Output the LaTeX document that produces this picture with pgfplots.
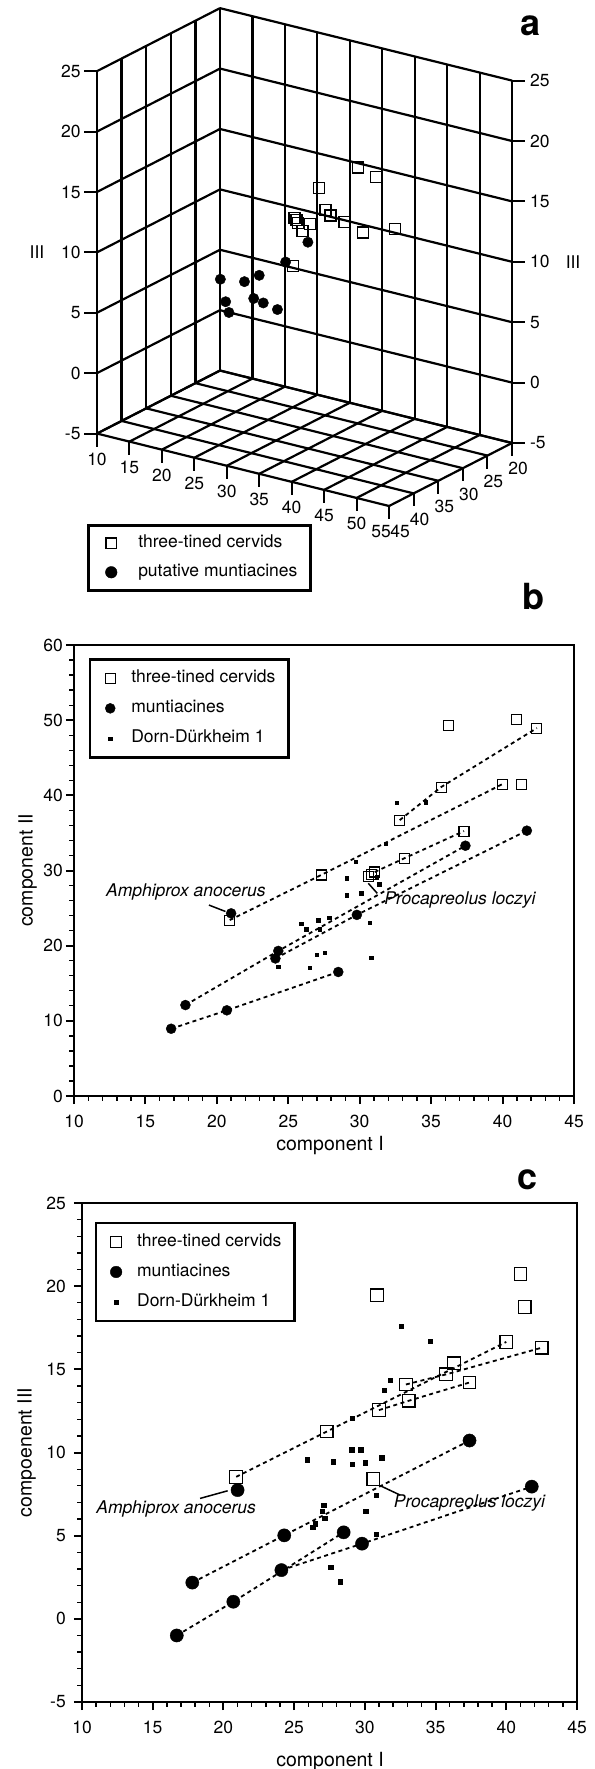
\documentclass[border=0pt]{standalone}
\usepackage{fontspec}
\setmainfont{TeX Gyre Heros}
\usepackage{pgfplots}
\pgfplotsset{compat=1.18}

\newcommand{\fs}{\fontsize{17.5bp}{20bp}\selectfont}
\newcommand{\fl}{\fontsize{19.5bp}{22bp}\selectfont}
\newcommand{\fp}{\fontsize{36bp}{40bp}\selectfont\bfseries}

\pgfplotsset{
  twod/.style={
    scale only axis, clip=false,
    axis line style={line width=2.7bp, black},
    tick align=outside, tick pos=left,
    major tick length=8bp, minor tick length=4.5bp,
    every major tick/.append style={line width=2bp, black},
    every minor tick/.append style={line width=1.3bp, black},
    /pgf/number format/assume math mode=true,
    tick label style={font=\fs, inner sep=0pt},
    xticklabel style={yshift=-11bp},
    yticklabel style={xshift=-3bp},
    label style={font=\fl},
    legend cell align=left,
    legend image code/.code={\draw[##1] plot coordinates {(7bp,0bp)}; \path[draw=none] (0bp,0bp) -- (28bp,0bp);},
    legend style={draw=black, line width=2.5bp, fill=white, font=\fs,
      inner xsep=13bp, inner ysep=11bp, row sep=14bp,
      nodes={inner sep=0pt, text height=12.5bp, text depth=3.5bp}},
  },
  dashline/.style={black, line width=1.8bp, dash pattern=on 4bp off 3.5bp, forget plot, mark=none},
}

\begin{document}
\begin{tikzpicture}
\useasboundingbox (0,0) rectangle (595bp,-1769bp);

% ---------------- panel a (3D) ----------------
\begin{axis}[
  at={(97bp,-506bp)}, anchor=south west,
  x={(-4.92bp,-2.52bp)}, y={(6.49bp,-1.61bp)}, z={(0bp,12.08bp)},
  xmin=20, xmax=45, ymin=10, ymax=55, zmin=-5, zmax=25,
  xtick={20,25,...,45}, ytick={10,15,...,55}, ztick={-5,0,...,25},
  xticklabels={}, yticklabels={}, zticklabels={},
  major tick length=0pt,
  grid=major, major grid style={black, line width=2.2bp},
  axis line style={draw=none},
  clip=false,
]
\addplot3[only marks, mark=square, mark size=5.5bp, mark options={line width=1.3bp, black}] coordinates {
(20.9,23.4,8.54) (27.3,29.4,11.26) (30.6,29.3,8.42) (30.8,39.5,18.0)
(31.0,29.8,12.55) (32.9,36.8,14.09) (33.1,31.7,13.11) (35.7,41.1,14.7)
(36.3,49.3,15.36) (37.4,35.2,14.21) (40.0,41.4,16.65) (41.0,50.0,20.73)
(41.3,41.4,18.76) (42.4,49.0,16.3)};
\addplot3[only marks, mark=*, mark size=5.2bp, mark options={line width=0.4bp, black}] coordinates {
(16.8,8.95,-1.0) (17.8,12.1,2.18) (20.7,11.4,1.03) (21.0,24.3,7.74)
(24.1,18.3,2.93) (24.3,19.3,5.02) (28.5,16.5,5.2) (29.8,24.1,4.52)
(37.4,33.3,10.72) (41.7,35.3,7.95)};
\pgfplotsinvokeforeach{-5,0,...,25}{
  \draw[line width=2bp] (axis cs:45,10,#1) -- ++(-13bp,0pt) node[anchor=east, inner sep=0pt, xshift=-2.5bp, font=\fs]{#1};
  \draw[line width=2bp] (axis cs:20,55,#1) -- ++(13bp,0pt) node[anchor=west, inner sep=0pt, xshift=4bp, font=\fs]{#1};
}
\pgfplotsinvokeforeach{10,15,...,50}{
  \draw[line width=2bp] (axis cs:45,#1,-5) -- ++(0pt,-13bp) node[anchor=north, inner sep=0pt, yshift=-5.5bp, font=\fs]{#1};
}
\draw[line width=2bp] (axis cs:45,55,-5) -- ++(0pt,-13bp) node[anchor=north, inner sep=0pt, yshift=-5.5bp, xshift=-8bp, font=\fs]{55};
\pgfplotsinvokeforeach{20,25,...,40}{
  \draw[line width=2bp] (axis cs:#1,55,-5) -- ++(0pt,-13bp) node[anchor=north, inner sep=0pt, yshift=-5.5bp, xshift=6bp, font=\fs]{#1};
}
\node[anchor=north, inner sep=0pt, font=\fs] at (axis cs:45,55,-5) [yshift=-18.5bp, xshift=11bp] {45};
\node[font=\fs] at (axis cs:45,10,10) [xshift=-60bp] {III};
\node[font=\fs] at (axis cs:20,55,10) [xshift=61bp] {III};
\end{axis}
\node[font=\fp] at (531bp,-26bp) {a};

% legend of panel a
\begin{axis}[
  at={(87bp,-524bp)}, anchor=north west, scale only axis, width=10bp, height=10bp,
  xmin=0, xmax=1, ymin=0, ymax=1, hide axis,
  legend cell align=left,
  legend image code/.code={\draw[#1] plot coordinates {(10bp,0bp)}; \path[draw=none] (0bp,0bp) -- (37bp,0bp);},
  legend style={at={(0,1)}, anchor=north west, draw=black, line width=2.5bp, fill=white, font=\fs,
    inner xsep=13bp, inner ysep=10bp, row sep=13bp,
    nodes={inner sep=0pt, text height=12.5bp, text depth=3.5bp}},
]
\addlegendimage{only marks, mark=square, mark size=5.3bp, mark options={line width=1.1bp, black}}
\addlegendentry{three-tined cervids}
\addlegendimage{only marks, mark=*, mark size=5.8bp, mark options={line width=0.4bp, black}}
\addlegendentry{putative muntiacines}
\end{axis}

% ---------------- panel b ----------------
\begin{axis}[twod,
  at={(74bp,-1096bp)}, anchor=south west, width=500bp, height=451bp,
  xmin=10, xmax=45, ymin=0, ymax=60,
  xtick={10,15,...,45}, ytick={0,10,...,60},
  minor x tick num=4, minor y tick num=4,
  xlabel={component I}, ylabel={component II},
  xlabel style={at={(axis description cs:0.512,-0.110)}, anchor=center},
  ylabel style={at={(axis description cs:-0.0926,0.5)}, anchor=center},
  legend style={at={(0.03,0.971)}, anchor=north west},
]
\addplot[dashline] coordinates {(20.9,23.4) (27.3,29.4) (40.0,41.5)};
\addplot[dashline] coordinates {(32.8,36.7) (35.7,41.1) (42.4,48.95)};
\addplot[dashline] coordinates {(31.05,29.8) (33.15,31.65) (37.3,35.25)};
\addplot[dashline] coordinates {(17.8,12.1) (24.3,19.3) (37.4,33.3)};
\addplot[dashline] coordinates {(24.1,18.3) (29.8,24.1) (41.7,35.3)};
\addplot[dashline] coordinates {(16.8,8.95) (20.7,11.4) (28.5,16.5)};
\addplot[only marks, mark=square*, mark size=1.7bp, mark options={line width=0.3bp, black}, forget plot] coordinates {
(32.6,39.0) (34.6,39.1) (31.8,33.6) (29.7,31.2) (29.1,29.0) (29.1,26.7) (30.1,27.0)
(31.2,29.1) (31.35,28.2) (27.85,23.7) (27.1,23.4) (27.2,22.2) (26.25,22.2) (25.9,22.9)
(30.7,23.1) (27.0,18.8) (27.55,19.05) (30.8,18.4) (24.3,17.2) (26.5,17.1)};
\addplot[only marks, mark=square, mark size=5bp, mark options={line width=1.1bp, black}, forget plot] coordinates {
(20.9,23.4) (27.3,29.4) (30.6,29.2) (30.8,29.5) (31.05,29.8) (32.8,36.7) (33.15,31.65)
(35.7,41.1) (36.2,49.25) (37.3,35.25) (40.0,41.5) (41.0,50.05) (41.3,41.4) (42.4,48.95)};
\addplot[only marks, mark=*, mark size=5bp, mark options={line width=0.4bp, black}, forget plot] coordinates {
(16.8,8.95) (17.8,12.1) (20.7,11.4) (21.0,24.3) (24.1,18.3) (24.3,19.3) (28.5,16.5)
(29.8,24.1) (37.4,33.3) (41.7,35.3)};
\addlegendimage{only marks, mark=square, mark size=5bp, mark options={line width=1.1bp, black}}
\addlegendentry{three-tined cervids}
\addlegendimage{only marks, mark=*, mark size=5bp, mark options={line width=0.4bp, black}}
\addlegendentry{muntiacines}
\addlegendimage{only marks, mark=square*, mark size=1.7bp, mark options={line width=0.3bp, black}}
\addlegendentry{Dorn-Dürkheim 1}
\node[font=\fs\itshape] at (axis cs:17.83,27.17) {Amphiprox anocerus};
\node[font=\fs\itshape] at (axis cs:37.02,26.07) {Procapreolus loczyi};
\draw[line width=1.5bp] (axis cs:19.45,25.4) -- (axis cs:20.6,24.55);
\draw[line width=1.5bp] (axis cs:30.6,28.3) -- (axis cs:31.23,26.96);
\end{axis}
\node[font=\fp] at (533bp,-597bp) {b};

% ---------------- panel c ----------------
\begin{axis}[twod,
  at={(82bp,-1702bp)}, anchor=south west, width=495bp, height=499bp,
  xmin=10, xmax=45, ymin=-5, ymax=25,
  xtick={10,15,...,45}, ytick={-5,0,...,25},
  minor x tick num=4, minor y tick num=4,
  yticklabel style={xshift=-5bp},
  xlabel={component I}, ylabel={compoenent III},
  xlabel style={at={(axis description cs:0.501,-0.1196)}, anchor=center},
  ylabel style={at={(axis description cs:-0.112,0.5)}, anchor=center},
  legend style={at={(0.026,0.9625)}, anchor=north west},
]
\addplot[dashline] coordinates {(20.9,8.54) (27.3,11.26) (40.0,16.65)};
\addplot[dashline] coordinates {(32.9,14.09) (35.75,14.7) (42.5,16.3)};
\addplot[dashline] coordinates {(31.0,12.55) (33.1,13.11) (37.4,14.21)};
\addplot[dashline] coordinates {(17.8,2.18) (24.3,5.02) (37.4,10.72)};
\addplot[dashline] coordinates {(24.1,2.93) (29.8,4.52) (41.8,7.95)};
\addplot[dashline] coordinates {(16.7,-1.0) (20.7,1.03) (28.5,5.2)};
\addplot[only marks, mark=square*, mark size=2.2bp, mark options={line width=0.3bp, black}, forget plot] coordinates {
(32.55,17.6) (34.6,16.7) (31.8,14.35) (31.35,13.74) (29.1,12.06) (29.06,10.18) (29.7,10.18)
(25.9,9.57) (27.75,9.45) (29.1,9.29) (30.0,9.4) (31.2,9.68) (30.8,7.42) (27.1,6.85)
(27.0,6.49) (30.05,6.49) (27.15,6.07) (26.5,5.72) (26.3,5.53) (30.8,5.09) (27.57,3.12) (28.26,2.23)};
\addplot[only marks, mark=square, mark size=6.3bp, mark options={line width=1.2bp, black}, forget plot] coordinates {
(20.9,8.54) (27.3,11.26) (30.6,8.42) (30.85,19.45) (31.0,12.55) (32.9,14.09) (33.1,13.11)
(35.75,14.7) (36.3,15.36) (37.4,14.21) (40.0,16.65) (41.0,20.73) (41.3,18.76) (42.5,16.3)};
\addplot[only marks, mark=*, mark size=6.6bp, mark options={line width=0.4bp, black}, forget plot] coordinates {
(16.7,-1.0) (17.8,2.18) (20.7,1.03) (21.0,7.74) (24.1,2.93) (24.3,5.02) (28.5,5.2)
(29.8,4.52) (37.4,10.72) (41.8,7.95)};
\addlegendimage{only marks, mark=square, mark size=5.6bp, mark options={line width=1.1bp, black}}
\addlegendentry{three-tined cervids}
\addlegendimage{only marks, mark=*, mark size=5.8bp, mark options={line width=0.4bp, black}}
\addlegendentry{muntiacines}
\addlegendimage{only marks, mark=square*, mark size=2.3bp, mark options={line width=0.3bp, black}}
\addlegendentry{Dorn-Dürkheim 1}
\node[font=\fs\itshape] at (axis cs:16.65,6.61) {Amphiprox anocerus};
\node[font=\fs\itshape] at (axis cs:37.4,6.94) {Procapreolus loczyi};
\draw[line width=1.5bp] (axis cs:18.35,7.24) -- (axis cs:20.3,7.7);
\draw[line width=1.5bp] (axis cs:31.1,8.0) -- (axis cs:32.5,7.44);
\end{axis}
\node[font=\fp] at (528bp,-1180bp) {c};
\end{tikzpicture}
\end{document}
